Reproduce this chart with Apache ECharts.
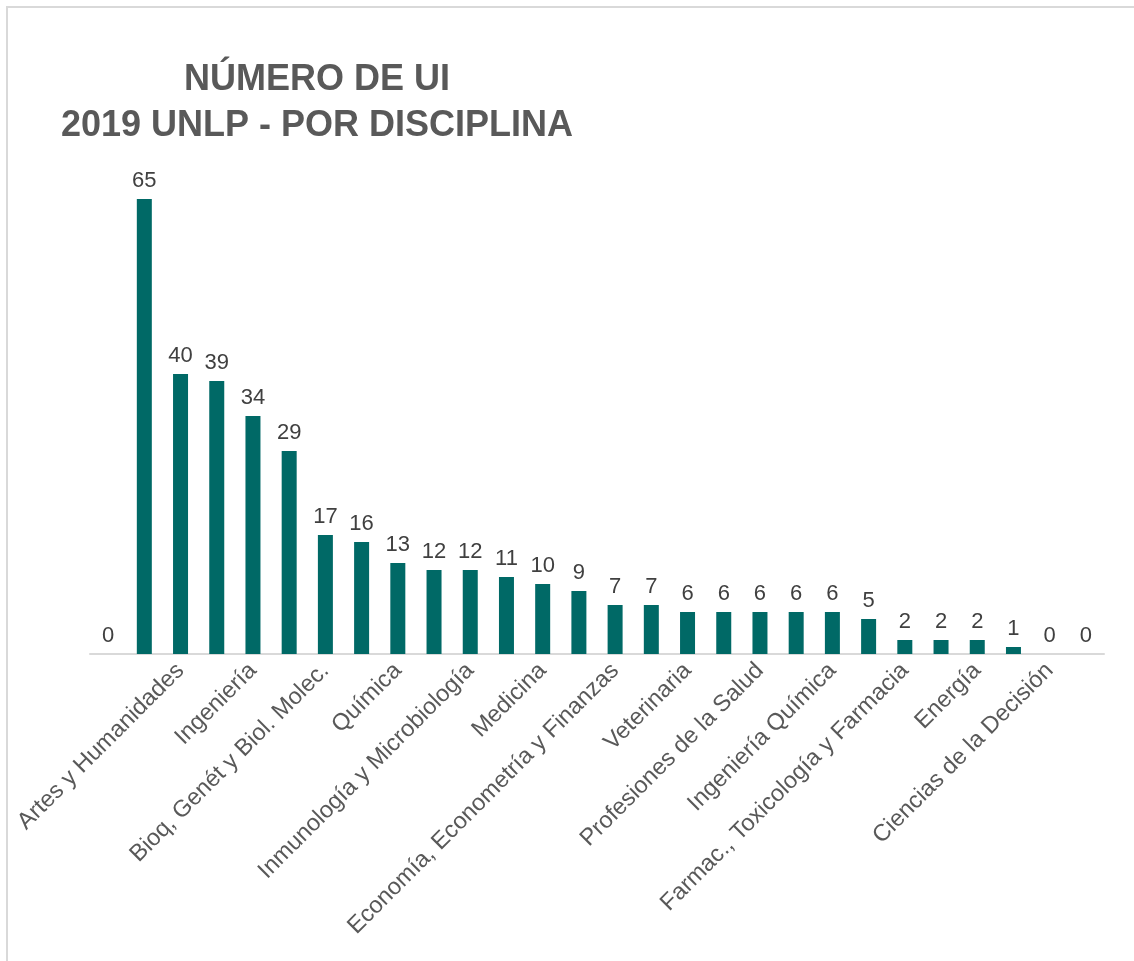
<!DOCTYPE html>
<html>
<head>
<meta charset="utf-8">
<script src="https://cdn.jsdelivr.net/npm/echarts@6/dist/echarts.min.js"></script>
<style>
  html, body { margin: 0; padding: 0; background: #fff; }
  #chart { width: 1134px; height: 961px; }
</style>
</head>
<body>
<div id="chart"></div>
<script>
// categorías (sólo se ven las de posición par; las demás no se leen en la imagen)
var categorias = [
  '', '', 'Artes y Humanidades', '', 'Ingeniería', '', 'Bioq, Genét y Biol. Molec.', '',
  'Química', '', 'Inmunología y Microbiología', '', 'Medicina', '',
  'Economía, Econometría y Finanzas', '', 'Veterinaria', '', 'Profesiones de la Salud', '',
  'Ingeniería Química', '', 'Farmac., Toxicología y Farmacia', '', 'Energía', '',
  'Ciencias de la Decisión', ''
];
// número de UI por disciplina
var valores = [0, 65, 40, 39, 34, 29, 17, 16, 13, 12, 12, 11, 10, 9, 7, 7, 6, 6, 6, 6, 6, 5, 2, 2, 2, 1, 0, 0];
var titulo = 'NÚMERO DE UI\n2019 UNLP - POR DISCIPLINA';

var myChart = echarts.init(document.getElementById('chart'));
var fuente = '"Liberation Sans", Arial, sans-serif';

var option = {
  animation: false,
  textStyle: { fontFamily: fuente },
  //marco gris alrededor del gráfico
  graphic: [{
    type: 'rect',
    shape: { x: 7, y: 7, width: 1140, height: 970 },
    style: { fill: 'none', stroke: '#d9d9d9', lineWidth: 2 }
  }],
  title: {
    text: titulo,
    left: 312,
    top: 52,
    textAlign: 'center',
    textStyle: {
      fontFamily: fuente,
      fontSize: 36,
      fontWeight: 'bold',
      color: '#595959',
      lineHeight: 46
    }
  },
  grid: {
    left: 90,
    right: 30,
    top: 164,
    bottom: 307,
    containLabel: false
  },
  xAxis: {
    type: 'category',
    data: categorias,
    axisTick: { show: false },
    axisLine: { lineStyle: { color: '#d9d9d9', width: 2 } },
    axisLabel: {
      interval: 1,
      rotate: 45,
      margin: 13,
      color: '#595959',
      fontSize: 23.5,
      fontFamily: fuente
    }
  },
  yAxis: {
    type: 'value',
    min: 0,
    max: 70,
    show: false,
    splitLine: { show: false }
  },
  series: [{
    type: 'bar',
    data: valores,
    barWidth: 15,
    itemStyle: { color: '#006966' },
    label: {
      show: true,
      position: 'top',
      distance: 7,
      color: '#404040',
      fontSize: 22,
      fontFamily: fuente
    }
  }]
};

myChart.setOption(option);
window.addEventListener('resize', function () {
  myChart.resize();
});
</script>
</body>
</html>
